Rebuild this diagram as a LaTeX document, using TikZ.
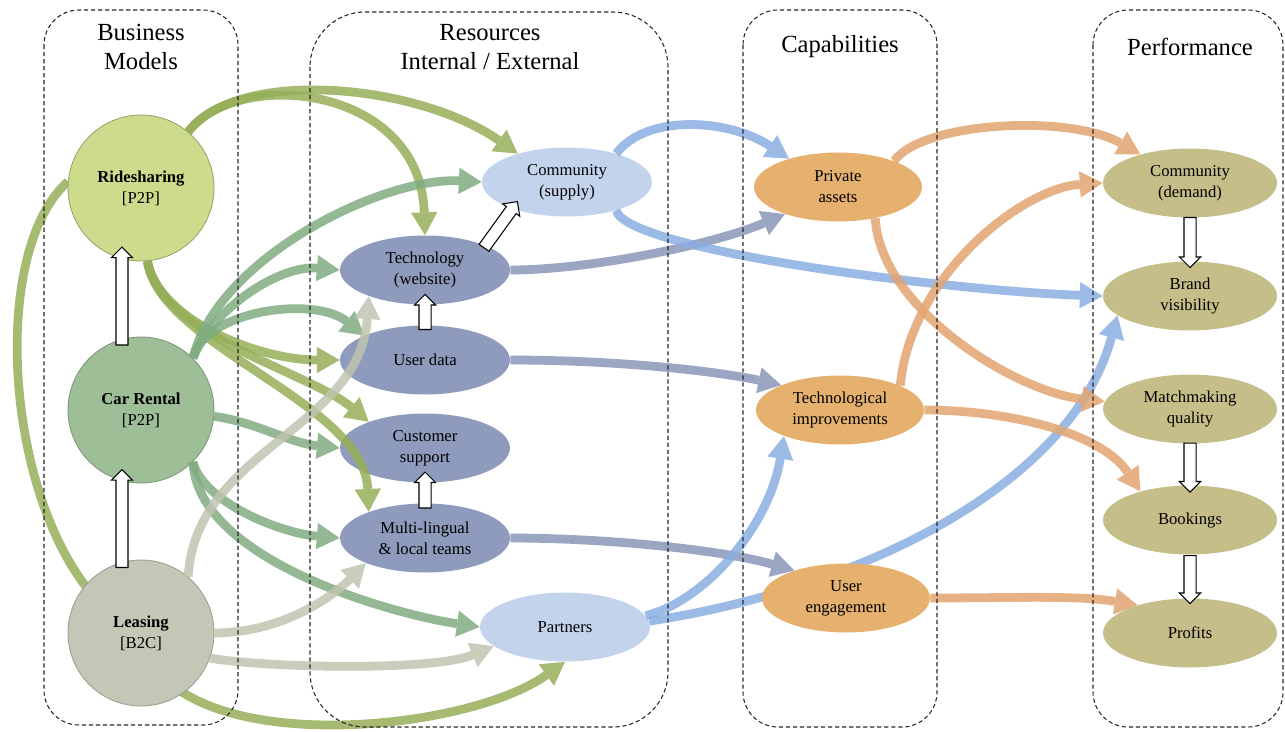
\documentclass[tikz,border=0pt]{standalone}
\usepackage{fontspec}
\setmainfont{Liberation Serif}
\usetikzlibrary{shapes.geometric,shapes.arrows,arrows.meta,backgrounds}

\definecolor{rscol}{RGB}{204,220,140}
\definecolor{crcol}{RGB}{157,190,150}
\definecolor{lscol}{RGB}{196,199,181}
\definecolor{extcol}{RGB}{196,211,236}
\definecolor{intcol}{RGB}{142,155,188}
\definecolor{capcol}{RGB}{230,176,110}
\definecolor{percol}{RGB}{198,190,136}
\definecolor{rsarr}{RGB}{150,174,88}
\definecolor{crarr}{RGB}{128,172,128}
\definecolor{lsarr}{RGB}{192,196,176}
\definecolor{intarr}{RGB}{138,150,184}
\definecolor{extarr}{RGB}{138,174,226}
\definecolor{caparr}{RGB}{226,165,112}

\newcommand{\ndfont}{\fontsize{9.5}{12}\selectfont}
\newcommand{\ttlfont}{\fontsize{14}{17}\selectfont}

\begin{document}
\begin{tikzpicture}[x=0.02cm, y=0.02cm,
    modelnode/.style={circle, minimum size=2.92cm, inner sep=0pt, align=center, font=\ndfont, line width=0.5pt},
    resnode/.style={ellipse, minimum width=3.4cm, minimum height=1.38cm, inner sep=0pt, align=center, font=\ndfont},
    capnode/.style={resnode, fill=capcol, minimum width=3.36cm},
    perfnode/.style={resnode, fill=percol, minimum width=3.48cm},
    coltitle/.style={align=center, font=\ttlfont},
    colbox/.style={draw=black!85, line width=0.6pt, dash pattern=on 2.4pt off 1.6pt, rounded corners=0.7cm},
    conn/.style={line width=5pt, draw opacity=0.85, fill opacity=0.85,
        -{Triangle[length=13pt,width=15pt,line width=0pt]}},
    rsl/.style={conn, draw=rsarr},
    crl/.style={conn, draw=crarr},
    lsl/.style={conn, draw=lsarr},
    intl/.style={conn, draw=intarr},
    extl/.style={conn, draw=extarr},
    capl/.style={conn, draw=caparr},
    hollow/.style={single arrow, draw=black, fill=white, line width=0.6pt, inner xsep=0pt, inner ysep=0.11cm,
        single arrow head extend=0.09cm, sloped, allow upside down}]
\useasboundingbox (0,0) rectangle (1285,-731);

\node[coltitle] (tbm) at (141,-47) {Business\\Models};
\node[coltitle] (tres) at (490,-47) {Resources\\Internal / External};
\node[coltitle] (tcap) at (840,-47) {Capabilities};
\node[coltitle] (tperf) at (1190,-47) {Performance};

\node[modelnode, fill=rscol, draw=rscol!75!black] (rs) at (141,-188) {\textbf{Ridesharing}\\{[P2P]}};
\node[modelnode, fill=crcol, draw=crcol!80!black] (cr) at (141,-410) {\textbf{Car Rental}\\{[P2P]}};
\node[modelnode, fill=lscol, draw=lscol!80!black] (ls) at (141,-633) {\textbf{Leasing}\\{[B2C]}};

\node[resnode, fill=extcol] (comsup) at (567,-182) {Community\\(supply)};
\node[resnode, fill=intcol] (tech) at (425,-270) {Technology\\(website)};
\node[resnode, fill=intcol] (udata) at (425,-360) {User data};
\node[resnode, fill=intcol] (csup) at (425,-448) {Customer\\support};
\node[resnode, fill=intcol] (mlt) at (425,-538) {Multi-lingual\\\& local teams};
\node[resnode, fill=extcol] (partn) at (565,-627) {Partners};

\node[capnode] (priv) at (838,-187) {Private\\assets};
\node[capnode] (techimp) at (840,-410) {Technological\\improvements};
\node[capnode] (ueng) at (846,-598) {User\\engagement};

\node[perfnode] (comdem) at (1190,-183) {Community\\(demand)};
\node[perfnode] (brand) at (1190,-296) {Brand\\visibility};
\node[perfnode] (match) at (1190,-409) {Matchmaking\\quality};
\node[perfnode] (book) at (1190,-520) {Bookings};
\node[perfnode] (prof) at (1190,-633) {Profits};

\begin{scope}[on background layer]
\draw[rsl] (rs.175) .. controls +(-90,-80) and +(-130,60) .. (ls.center)
    .. controls +(19,-127) and +(-106,-75) .. (partn.south);
\draw[extl] (partn.4) .. controls +(200,30) and +(-48,-175) .. (brand.195);
\end{scope}

\draw[rsl] (rs.50) .. controls +(50,65) and +(-100,70) .. (comsup.150);
\draw[rsl] (rs.50) .. controls +(50,65) and +(-5,150) .. (tech.north);
\draw[rsl] (rs.-85) .. controls +(12,-60) and +(-80,0) .. (udata.west);
\draw[rsl] (rs.-85) .. controls +(12,-75) and +(-60,50) .. (csup.155);
\draw[rsl] (rs.-85) .. controls +(12,-85) and +(-5,110) .. (mlt.155);

\draw[crl] (cr.45) .. controls +(25,100) and +(-100,5) .. (comsup.west);
\draw[crl] (cr.45) .. controls +(20,50) and +(-60,5) .. (tech.west);
\draw[crl] (cr.45) .. controls +(12,48) and +(-50,40) .. (udata.158);
\draw[crl] (cr.-5) .. controls +(40,-5) and +(-50,5) .. (csup.west);
\draw[crl] (cr.-45) .. controls +(10,-40) and +(-60,5) .. (mlt.west);
\draw[crl] (cr.-45) .. controls +(5,-100) and +(-82,12) .. (partn.west);

\draw[lsl] (ls.50) .. controls +(7,127) and +(-9,-133) .. (tech.205);
\draw[lsl] (ls.0) .. controls +(60,0) and +(-40,-40) .. (mlt.203);
\draw[lsl] (ls.-20) .. controls +(60,-10) and +(-60,-25) .. (partn.195);

\draw[intl] (tech.east) .. controls +(80,0) and +(-70,-30) .. (priv.207);
\draw[intl] (udata.east) .. controls +(100,0) and +(-70,15) .. (techimp.157);
\draw[intl] (mlt.east) .. controls +(100,0) and +(-70,20) .. (ueng.152);

\draw[extl] (comsup.30) .. controls +(30,40) and +(-60,40) .. (priv.150);
\draw[extl] (comsup.-30) .. controls +(10,-40) and +(-150,5) .. (brand.west);
\draw[extl] (partn.8) .. controls +(60,15) and +(-15,-90) .. (techimp.205);

\draw[capl] (priv.25) .. controls +(30,40) and +(-70,40) .. (comdem.150);
\draw[capl] (priv.-40) .. controls +(5,-90) and +(-90,10) .. (match.175);
\draw[capl] (techimp.22) .. controls +(10,110) and +(-80,-5) .. (comdem.west);
\draw[capl] (techimp.east) .. controls +(80,0) and +(-40,60) .. (book.150);
\draw[capl] (ueng.east) .. controls +(80,0) and +(-60,10) .. (prof.152);

\path (ls.105) -- node[hollow, minimum height=1.96cm] (up1) {} (cr.-105);
\path (cr.105) -- node[hollow, minimum height=1.96cm] (up2) {} (rs.-105);
\path (udata.north) -- node[hollow, minimum height=0.7cm] (up3) {} (tech.south);
\path (tech.22) -- node[hollow, minimum height=1.14cm] (up4) {} (comsup.206);
\path (mlt.north) -- node[hollow, minimum height=0.72cm] (up5) {} (csup.south);
\path (comdem.south) -- node[hollow, minimum height=1.0cm] (dn1) {} (brand.north);
\path (match.south) -- node[hollow, minimum height=0.98cm] (dn2) {} (book.north);
\path (book.south) -- node[hollow, minimum height=0.96cm] (dn3) {} (prof.north);

\draw[colbox] (44,-10) rectangle (238,-725);
\draw[colbox, rounded corners=1.1cm] (310,-12) rectangle (668,-727);
\draw[colbox] (743,-10) rectangle (937,-727);
\draw[colbox] (1093,-10) rectangle (1283,-727);
\end{tikzpicture}
\end{document}
